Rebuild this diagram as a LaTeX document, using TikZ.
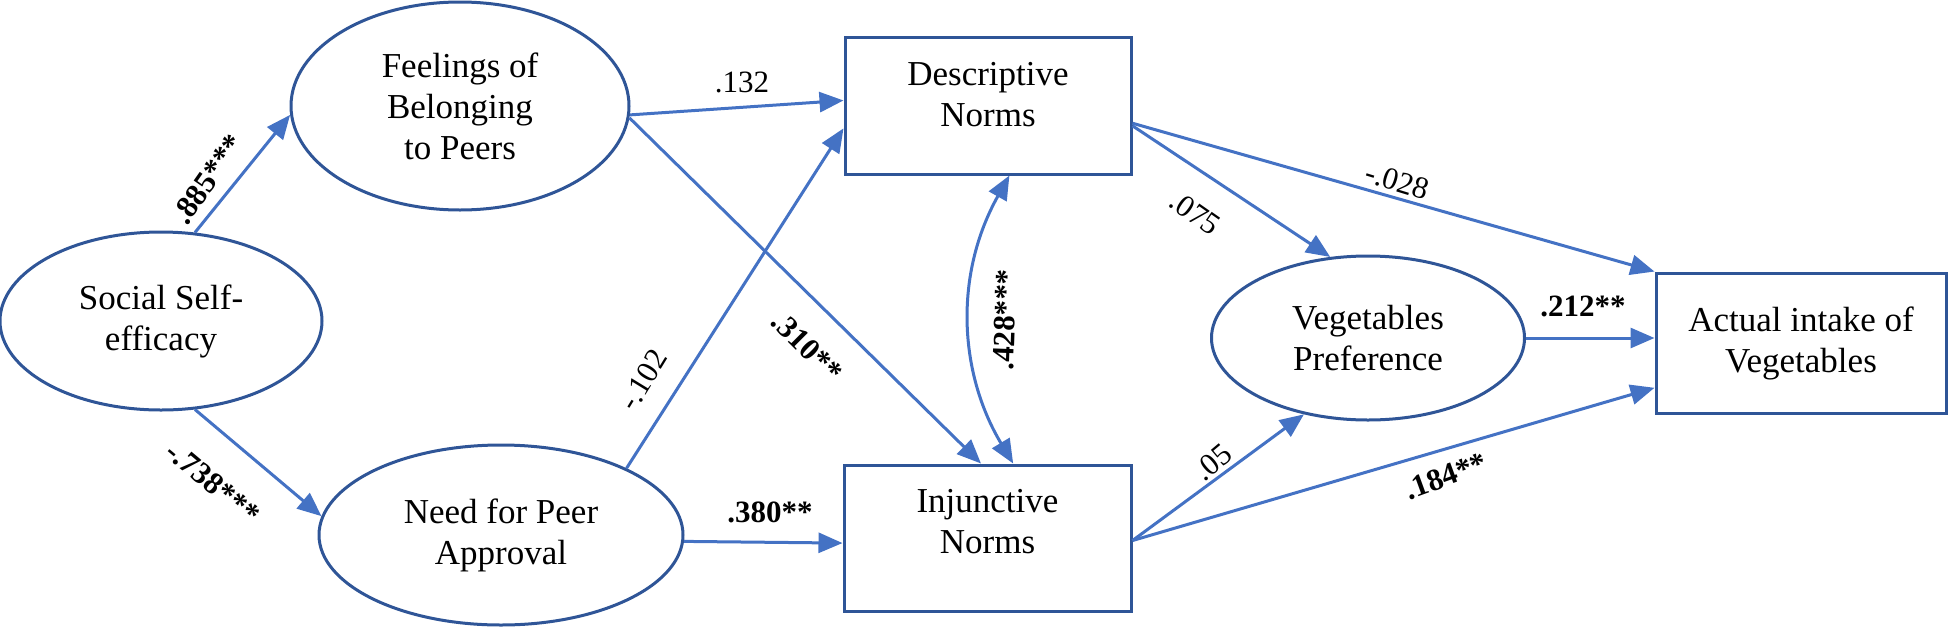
\documentclass[tikz,border=0pt]{standalone}
\usepackage{fontspec}
\setmainfont{Liberation Serif}
\usetikzlibrary{arrows.meta,shapes.geometric,calc}
\definecolor{nodeblue}{HTML}{2F5597}
\definecolor{arrowblue}{HTML}{4472C4}
\newcommand{\dgnodefont}{\fontsize{35}{41}\selectfont}
\newcommand{\dgcoeffont}{\fontsize{31}{36}\selectfont}
\tikzset{
  >={Triangle[length=24pt,width=20pt]},
  latent/.style={ellipse, draw=nodeblue, line width=3pt, fill=white, inner sep=0pt, align=center, font=\dgnodefont},
  observed/.style={rectangle, draw=nodeblue, line width=3pt, fill=white, inner sep=0pt},
  nodetext/.style={align=center, font=\dgnodefont, inner sep=0pt},
  pathline/.style={draw=arrowblue, line width=3pt, ->},
  coef/.style={font=\dgcoeffont, inner sep=0pt},
  coefb/.style={font=\dgcoeffont\bfseries, inner sep=0pt},
}
\begin{document}
\begin{tikzpicture}[x=1pt,y=-1pt]
\useasboundingbox (0,0) rectangle (1948,627);
% nodes
\node[latent, minimum width=322pt, minimum height=178pt] (sse) at (161,321) {Social Self-\\efficacy};
\node[latent, minimum width=338pt, minimum height=208pt] (feel) at (460,106) {Feelings of\\Belonging\\to Peers};
\node[latent, minimum width=364pt, minimum height=180pt] (need) at (501,535) {Need for Peer\\Approval};
\node[observed, minimum width=286pt, minimum height=137pt] (desc) at (988,105.5) {};
\node[nodetext] (desct) at (988,95) {Descriptive\\Norms};
\node[observed, minimum width=287pt, minimum height=146pt] (inj) at (987.5,538) {};
\node[nodetext] (injt) at (987.5,522) {Injunctive\\Norms};
\node[latent, minimum width=313pt, minimum height=164pt] (veg) at (1368,338) {Vegetables\\Preference};
\node[observed, minimum width=290pt, minimum height=140pt, align=center, font=\dgnodefont] (act) at (1801,343) {Actual intake of\\Vegetables};
% connectors
\draw[pathline] (sse.69) -- (feel.183);
\draw[pathline] (sse.-69.5) -- (need.174.6);
\draw[pathline] (feel.-3) -- (desc.178.6);
\draw[pathline] (feel.-4) -- (inj.95.8);
\draw[pathline] (need.28.7) -- (desc.-171.5);
\draw[pathline] (need.-2.5) -- (inj.182);
\draw[pathline, <->] (desc.-73) .. controls ($(desc.-73)+(-56,100)$) and ($(inj.71.4)+(-54,-90)$) .. (inj.71.4);
\draw[pathline] (desc.-8.9) -- (veg.115.7);
\draw[pathline] (desc.-7.8) -- (act.154);
\draw[pathline] (inj.-1.6) -- (veg.230.4);
\draw[pathline] (inj.-1.6) -- (act.197.2);
\draw[pathline] (veg.east) -- (veg.east -| act.west);
% coefficients
\node[coefb, rotate=55] (l1) at (208,179) {.885***};
\node[coefb, rotate=-40] (l2) at (213,483) {-.738***};
\node[coef] (l3) at (742,82) {.132};
\node[coefb, rotate=-45] (l4) at (807,347) {.310**};
\node[coef, rotate=58.5] (l5) at (643,380) {-.102};
\node[coefb] (l6) at (770,512) {.380**};
\node[coefb, rotate=88] (l7) at (1005,320) {.428***};
\node[coef, rotate=-35] (l8) at (1195,213) {.075};
\node[coef, rotate=-17] (l9) at (1397,181) {-.028};
\node[coef, rotate=40] (l10) at (1213,462) {.05};
\node[coefb, rotate=20] (l11) at (1446,476) {.184**};
\node[coefb] (l12) at (1583,306) {.212**};
\end{tikzpicture}
\end{document}
